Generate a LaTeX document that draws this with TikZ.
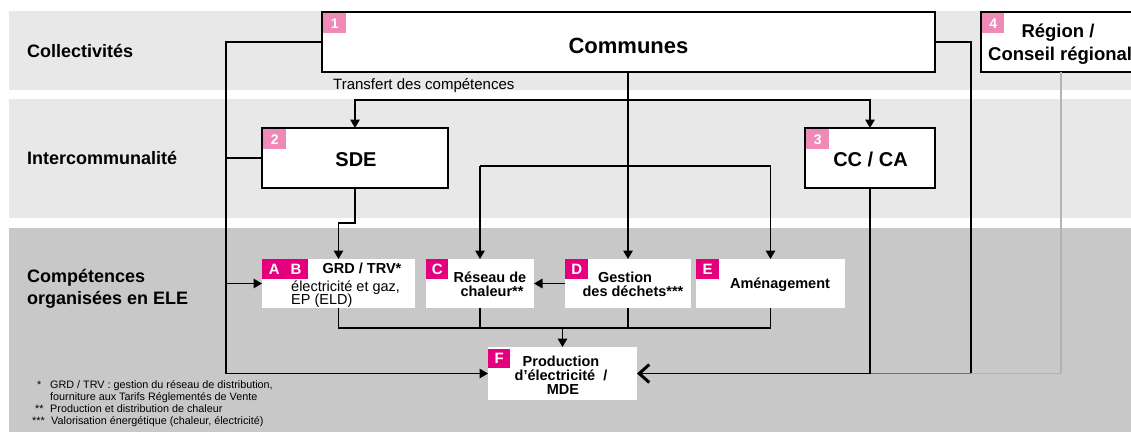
\documentclass[tikz,border=0pt]{standalone}
\usepackage{fontspec}
\setmainfont{Liberation Sans}
\usetikzlibrary{arrows.meta,calc}
\definecolor{bandA}{RGB}{232,232,232}
\definecolor{bandB}{RGB}{200,200,200}
\definecolor{pinkL}{RGB}{238,137,184}
\definecolor{mag}{RGB}{228,0,124}
\newcommand\fsz[1]{\fontsize{#1}{#1}\selectfont}
\begin{document}
\begin{tikzpicture}[x=1pt,y=-1pt,
 lbl/.style={anchor=base west,inner sep=0,font=\fsz{18}\bfseries},
 bbox/.style={draw,line width=1.6pt,fill=white,anchor=north west,inner sep=0,outer sep=0},
 wbox/.style={fill=white,anchor=north west,inner sep=0,outer sep=0},
 numbadge/.style={fill=pinkL,text=white,anchor=north west,inner sep=0,minimum width=23pt,minimum height=20pt,font=\fsz{14}\bfseries},
 letbadge/.style={fill=mag,text=white,anchor=north west,inner sep=0,minimum width=22pt,minimum height=20pt,font=\fsz{15}\bfseries},
 bt/.style={anchor=base,inner sep=0,font=\fsz{14.5}\bfseries},
 rt/.style={anchor=base west,inner sep=0,font=\fsz{14.5}},
 fn/.style={anchor=base west,inner sep=0,font=\fsz{10.8}},
 conn/.style={line width=1.6pt},
 arr/.style={conn,-{Triangle[length=8.5pt,width=9.5pt]}},
 bigarr/.style={conn,-{Straight Barb[length=10pt,width=18pt,line width=3pt]}}
]
\useasboundingbox (0,0) rectangle (1131,432);
% bands
\fill[bandA] (9,11) rectangle (1131,90);
\fill[bandA] (9,99) rectangle (1131,218);
\fill[bandB] (9,228) rectangle (1131,432);

% row labels
\node[lbl] (lcol) at (27,57) {Collectivités};
\node[lbl] (lint) at (27,164) {Intercommunalité};
\node[lbl] (lcomp1) at (27,282) {Compétences};
\node[lbl] (lcomp2) at (27,304) {organisées en ELE};

% boxes
\node[bbox,minimum width=613pt,minimum height=60pt] (com) at (322,12) {};
\node[bbox,minimum width=175pt,minimum height=60pt] (reg) at (981,12) {};
\node[bbox,minimum width=186pt,minimum height=60pt] (sde) at (262,128) {};
\node[bbox,minimum width=130pt,minimum height=60pt] (cc) at (805,128) {};
\node[wbox,minimum width=153pt,minimum height=49pt] (ab) at (262,259) {};
\node[wbox,minimum width=108pt,minimum height=49pt] (C) at (426,259) {};
\node[wbox,minimum width=126pt,minimum height=49pt] (D) at (565,259) {};
\node[wbox,minimum width=149pt,minimum height=49pt] (E) at (696,259) {};
\node[wbox,minimum width=149pt,minimum height=53pt] (F) at (488,347) {};

% helper coordinates
\coordinate (L) at (226,0);
\coordinate (T) at (628,100);
\coordinate (M) at (0,166);
\coordinate (B) at (0,328);
\coordinate (R1) at (971,0);
\coordinate (G) at (1061,72);

% connectors
\draw[arr] (com.west) -| (L |- F.west) -- (F.west);
\draw[conn] (sde.west) -- (L |- sde.west);
\draw[arr] (L |- ab.west) -- (ab.west);
\draw[arr] (com.south -| D.north) -- (D.north);
\draw[arr] (T) -| (sde.north);
\draw[arr] (T) -| (cc.north);
\draw[arr] (C.north |- M) -- (C.north);
\draw[arr] (C.north |- M) -| (E.north);
\draw[arr] (sde.south) -- ++(0,35) -| (ab.north);
\draw[arr] (D.west) -- (C.east);
\draw[conn] (ab.south) |- (E.south |- B) -- (E.south);
\draw[conn] (C.south) -- (C.south |- B);
\draw[conn] (D.south) -- (D.south |- B);
\draw[arr] (F.north |- B) -- (F.north);
\draw[conn] (com.east) -| (R1 |- F.east);
\draw[line width=1.6pt,black!30] (G) -- (G |- F.east) -- (R1 |- F.east);
\draw[line width=1.6pt,black!55] (R1 |- F.east) -- (cc.south |- F.east);
\draw[bigarr] (cc.south) |- (F.east);

% badges
\node[numbadge] (b1) at (323,13) {1};
\node[numbadge] (b2) at (263,129) {2};
\node[numbadge] (b3) at (806,129) {3};
\node[numbadge,minimum width=22pt] (b4) at (982,13) {4};
\node[letbadge,minimum width=46pt] (bab) at (262,259) {A\hspace{11pt}B};
\node[letbadge] (bc) at (426,259) {C};
\node[letbadge,minimum width=23pt] (bd) at (565,259) {D};
\node[letbadge,minimum width=23pt] (be) at (696,259) {E};
\node[letbadge,minimum height=19pt] (bf) at (488,349) {F};

% texts
\node[anchor=base,inner sep=0,font=\fsz{22}\bfseries] (tcom) at (628.5,53) {Communes};
\node[anchor=base,inner sep=0,font=\fsz{20}\bfseries] (tsde) at (356,166) {SDE};
\node[anchor=base,inner sep=0,font=\fsz{20}\bfseries] (tcc) at (870.5,166) {CC / CA};
\node[anchor=base,inner sep=0,font=\fsz{18.5}\bfseries] (treg1) at (1058,37) {Région /};
\node[anchor=base west,inner sep=0,font=\fsz{18.5}\bfseries] (treg2) at (988,60) {Conseil régional};
\node[anchor=base west,inner sep=0,font=\fsz{15}] (ttr) at (333,89) {Transfert des compétences};

\node[bt] (tab1) at (362,273) {GRD / TRV*};
\node[rt] (tab2) at (291,291) {électricité et gaz,};
\node[rt] (tab3) at (291,304) {EP (ELD)};
\node[bt] (tc1) at (490,282) {Réseau de};
\node[bt] (tc2) at (492,296) {chaleur**};
\node[bt] (td1) at (625,282) {Gestion};
\node[bt] (td2) at (633,296) {des déchets***};
\node[bt] (te1) at (780,288) {Aménagement};
\node[bt] (tf1) at (561,366) {Production};
\node[bt] (tf2) at (561,380) {d’électricité\ \ /};
\node[bt] (tf3) at (563,394) {MDE};

% footnotes
\node[fn] (f1m) at (37,388) {*};
\node[fn] (f1) at (50,388) {GRD / TRV : gestion du réseau de distribution,};
\node[fn] (f2) at (50,400) {fourniture aux Tarifs Réglementés de Vente};
\node[fn] (f3m) at (35,412) {**};
\node[fn] (f3) at (50,412) {Production et distribution de chaleur};
\node[fn] (f4m) at (32,424) {***};
\node[fn] (f4) at (51,424) {Valorisation énergétique (chaleur, électricité)};
\end{tikzpicture}
\end{document}
